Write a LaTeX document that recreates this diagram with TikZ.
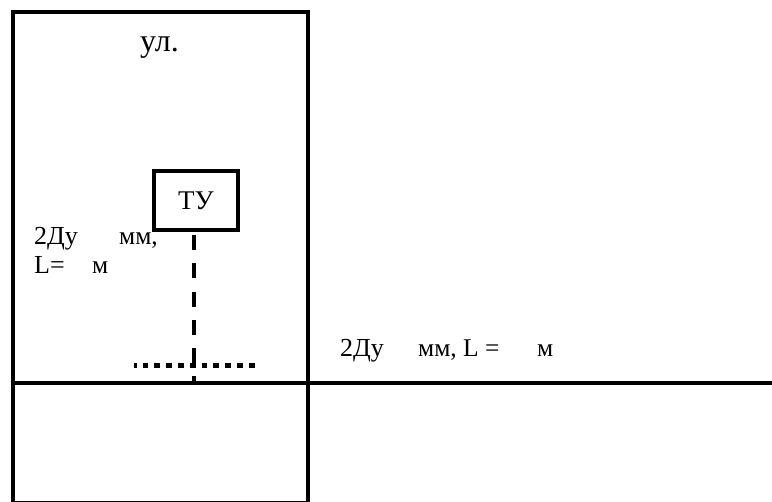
\documentclass[tikz,border=0pt]{standalone}
\usepackage{fontspec}
\setmainfont{Liberation Serif}
\tikzset{
  wall/.style={line width=3.2pt,draw=black},
  mainline/.style={line width=3.2pt,draw=black},
  branch/.style={line width=3.6pt,draw=black,dash pattern=on 15pt off 13.3pt},
  dotline/.style={line width=5pt,draw=black,dash pattern=on 5.8pt off 6pt},
  lbl/.style={inner sep=0pt,anchor=base west,font=\fontsize{26pt}{30pt}\selectfont},
  unit/.style={inner sep=0pt,anchor=base west,font=\fontsize{25.5pt}{30pt}\selectfont}
}
\begin{document}
\begin{tikzpicture}[x=1pt,y=-1pt]
\useasboundingbox (0,0) rectangle (772,502);
\fill[white] (0,0) rectangle (772,502);
\draw[wall] (13,502) -- (13,12) -- (308,12) -- (308,502);
\draw[line width=1pt] (13,501.5) -- (308,501.5);
\coordinate (mainL) at (13,383);
\coordinate (mainR) at (772,383);
\draw[mainline] (mainL) -- (mainR);
\node[draw=black,line width=3.2pt,minimum width=84pt,minimum height=59pt,inner sep=0pt] (tu) at (196,200.5) {};
\node[inner sep=0pt,anchor=base,font=\fontsize{27pt}{30pt}\selectfont] (tulabel) at (196,210) {ТУ};
\coordinate (dotL) at (134,365.7);
\coordinate (dotR) at (256,365.7);
\draw[dotline,dash phase=3.2pt] (dotL) -- (dotR);
\coordinate (tap) at (194,384);
\draw[branch] (194,235) -- (tap);
\node[lbl,font=\fontsize{32pt}{36pt}\selectfont] (street) at (140,52) {ул.};
\node[lbl] (d1) at (34,245) {2Ду};
\node[unit] (d1u) at (119,245) {мм,};
\node[lbl] (l1) at (34,274) {L=};
\node[unit] (l1u) at (92,274) {м};
\node[lbl] (d2) at (340,357) {2Ду};
\node[unit] (d2u) at (418,357) {мм, L =};
\node[unit] (d2m) at (537,357) {м};
\end{tikzpicture}
\end{document}
